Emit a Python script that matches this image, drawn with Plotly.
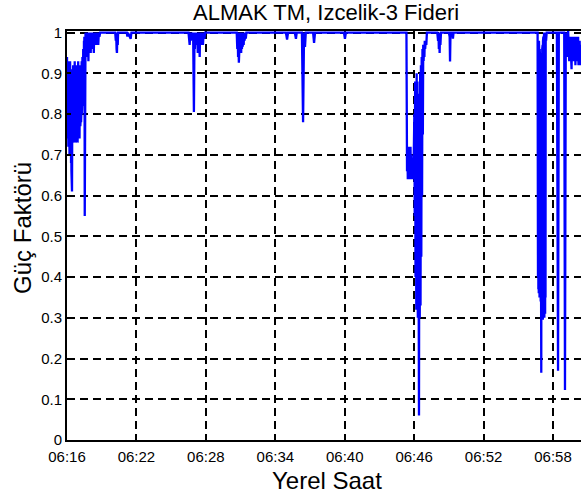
import plotly.graph_objects as go
from datetime import datetime, timedelta

# ---- data: seconds after 06:16:00 and power factor ----
t_sec = [
    # start-up band
    0, 1, 2, 3, 4, 5, 6, 7, 8, 9,
    10, 11, 12, 13, 14, 15, 16, 17, 18, 19,
    20, 21, 22, 23, 24, 25, 26, 27, 28, 29,
    30, 31, 32, 33, 34, 35, 36, 37, 38, 39,
    40, 41, 42, 43, 44, 45, 46, 47, 48, 49,
    50, 51, 52, 53, 54, 55, 56, 57, 58, 59,
    60, 61, 62, 63, 64, 65, 66, 67, 68, 69,
    70, 71, 72, 73, 74, 75, 76, 77, 78, 79,
    80, 81, 82, 83, 84, 85, 86, 87, 88, 89,
    90, 91, 92, 93, 94, 95, 96, 97, 98,
    99, 101, 103, 105, 107, 109, 111, 113, 115, 117,
    119, 121, 123, 125, 127, 129, 131, 133, 135, 137,
    139, 141, 143, 145, 147, 149, 151, 153, 156, 159,
    162, 165, 168, 172,
    # small dips
    250, 253, 255, 257, 259, 261, 263, 265,
    310, 313, 316, 330, 334, 338,
    # cluster near 06:27
    630, 636, 639, 642, 645, 650, 654, 658, 661, 663,
    665, 667, 669, 672, 675, 678, 680, 683, 685, 688,
    690, 693, 696, 699, 702, 705, 708, 712, 716,
    # wedge near 06:31
    880, 883, 885, 887, 889, 891, 893, 895, 897, 899,
    901, 903, 905, 907, 909, 911, 913, 916, 918, 921,
    924, 927, 930,
    # dips 06:35 - 06:40
    1135, 1141, 1146, 1181, 1184, 1187, 1191, 1218, 1224, 1229,
    1234, 1238, 1276, 1281, 1286, 1436, 1441, 1446,
    # event near 06:46
    1753, 1760, 1763, 1765, 1767, 1769, 1771, 1773, 1775, 1777,
    1779, 1781, 1783, 1785, 1787, 1789, 1791, 1793, 1795, 1798,
    1801, 1803, 1805, 1807, 1809, 1811, 1813, 1815, 1817, 1819,
    1821, 1823, 1825, 1827, 1829, 1831, 1833, 1835, 1837, 1839,
    1841, 1843, 1845, 1847, 1849, 1851, 1853, 1855, 1857, 1860,
    1863, 1866,
    # dips near 06:48
    1920, 1924, 1926, 1928, 1930, 1932, 1934, 1936, 1939, 1980,
    1984, 1986, 1988, 1990, 1998, 2001, 2004,
    # event near 06:57
    2436, 2440, 2442, 2443, 2444, 2445, 2446, 2447, 2448, 2449,
    2450, 2451, 2452, 2453, 2454, 2455, 2456, 2457, 2458, 2459,
    2460, 2461, 2462, 2463, 2464, 2465, 2466, 2467, 2468, 2469,
    2470, 2471, 2472, 2473, 2474, 2475, 2476, 2477, 2478, 2479,
    2480, 2481, 2482, 2484, 2487,
    # spikes near 06:58 - 06:59
    2540, 2546, 2550, 2578, 2582, 2586,
    # final band
    2588, 2590, 2592, 2594, 2596, 2598, 2600, 2602, 2604, 2606,
    2608, 2610, 2612, 2614, 2616, 2618, 2620, 2622, 2624, 2626,
    2628, 2630, 2632, 2634, 2636, 2638, 2640, 2642, 2644, 2646,
    2648, 2650, 2652, 2654, 2656, 2658, 2660, 2662, 2664, 2666,
    2670, 2675, 2680,
]
pf = [
    # start-up band
    0.94, 0.78, 0.92, 0.74, 0.90, 0.76, 0.93, 0.72, 0.88, 0.75,
    0.91, 0.73, 0.86, 0.70, 0.89, 0.74, 0.93, 0.76, 0.87, 0.72,
    0.90, 0.68, 0.85, 0.66, 0.88, 0.64, 0.61, 0.80, 0.91, 0.73,
    0.86, 0.75, 0.92, 0.74, 0.88, 0.78, 0.90, 0.73, 0.85, 0.76,
    0.93, 0.74, 0.87, 0.77, 0.90, 0.73, 0.86, 0.75, 0.92, 0.78,
    0.88, 0.74, 0.91, 0.76, 0.86, 0.73, 0.89, 0.77, 0.93, 0.75,
    0.87, 0.79, 0.90, 0.76, 0.85, 0.74, 0.88, 0.80, 0.92, 0.77,
    0.86, 0.79, 0.91, 0.78, 0.87, 0.81, 0.93, 0.80, 0.89, 0.83,
    0.94, 0.82, 0.90, 0.85, 0.96, 0.84, 0.92, 0.88, 0.98, 0.90,
    0.99, 0.93, 0.55, 0.97, 1.00, 0.93, 1.00, 0.95, 1.00,
    0.96, 1.00, 0.94, 1.00, 0.95, 0.99, 0.93, 1.00, 0.96, 1.00,
    0.97, 1.00, 0.95, 0.99, 0.97, 1.00, 0.96, 1.00, 0.98, 1.00,
    0.95, 1.00, 0.97, 1.00, 0.98, 1.00, 0.97, 1.00, 0.98, 1.00,
    0.97, 1.00, 0.99, 1.00,
    # small dips
    1.00, 0.98, 1.00, 0.96, 0.95, 1.00, 0.97, 1.00,
    1.00, 0.99, 1.00, 0.985, 1.00, 1.00,
    # cluster near 06:27
    1.00, 0.97, 1.00, 0.98, 1.00, 0.99, 1.00, 0.805, 1.00, 0.96,
    1.00, 0.97, 1.00, 0.98, 1.00, 0.95, 1.00, 0.96, 1.00, 0.94,
    1.00, 0.97, 1.00, 0.98, 1.00, 0.97, 1.00, 0.985, 1.00,
    # wedge near 06:31
    1.00, 0.96, 1.00, 0.94, 0.98, 0.926, 0.99, 0.94, 1.00, 0.95,
    0.99, 0.95, 1.00, 0.96, 0.99, 0.965, 1.00, 0.97, 1.00, 0.98,
    1.00, 0.985, 1.00,
    # dips 06:35 - 06:40
    1.00, 0.983, 1.00, 1.00, 0.99, 0.985, 1.00, 1.00, 0.78, 1.00,
    0.965, 1.00, 1.00, 0.975, 1.00, 1.00, 0.985, 1.00,
    # event near 06:46
    1.00, 1.00, 0.66, 0.72, 0.64, 0.71, 0.65, 0.72, 0.64, 0.70,
    0.65, 0.72, 0.64, 0.70, 0.65, 0.69, 0.64, 0.68, 0.66, 0.70,
    0.80, 0.55, 0.88, 0.40, 0.86, 0.32, 0.90, 0.35, 0.88, 0.30,
    0.85, 0.32, 0.06, 0.80, 0.30, 0.90, 0.33, 0.92, 0.45, 0.94,
    0.60, 0.96, 0.75, 0.97, 0.93, 0.97, 0.94, 0.98, 0.96, 0.98,
    0.97, 1.00,
    # dips near 06:48
    1.00, 0.98, 1.00, 0.96, 0.99, 0.95, 1.00, 0.97, 1.00, 1.00,
    0.99, 0.929, 0.99, 1.00, 1.00, 0.985, 1.00,
    # event near 06:57
    1.00, 1.00, 0.40, 0.97, 0.37, 0.95, 0.36, 0.98, 0.38, 0.94,
    0.35, 0.96, 0.37, 0.93, 0.36, 0.95, 0.34, 0.94, 0.36, 0.165,
    0.92, 0.33, 0.95, 0.31, 0.96, 0.30, 0.97, 0.295, 0.98, 0.31,
    0.99, 0.30, 0.98, 0.32, 1.00, 0.30, 0.99, 0.33, 1.00, 0.31,
    0.99, 0.35, 1.00, 0.98, 1.00,
    # spikes near 06:58 - 06:59
    1.00, 0.17, 1.00, 1.00, 0.123, 0.98,
    # final band
    0.97, 1.00, 0.94, 1.00, 0.95, 1.01, 0.94, 0.99, 0.93, 0.98,
    0.94, 0.99, 0.93, 0.97, 0.91, 0.98, 0.93, 0.99, 0.94, 0.98,
    0.93, 0.97, 0.94, 0.99, 0.92, 0.98, 0.94, 0.99, 0.93, 0.97,
    0.95, 0.99, 0.92, 0.97, 0.94, 0.98, 0.92, 0.96, 0.93, 0.97,
    0.94, 0.96, 0.95,
]
assert len(t_sec) == len(pf)

x_tick_labels = ["06:16", "06:22", "06:28", "06:34", "06:40", "06:46", "06:52", "06:58"]
y_tick_vals = [0, 0.1, 0.2, 0.3, 0.4, 0.5, 0.6, 0.7, 0.8, 0.9, 1.0]
y_tick_labels = ["0", "0.1", "0.2", "0.3", "0.4", "0.5", "0.6", "0.7", "0.8", "0.9", "1"]

title_text = "ALMAK TM, Izcelik-3 Fideri"
x_label = "Yerel Saat"
y_label = "Güç Faktörü"

# ---- build ----
base = datetime(2000, 1, 1, 6, 16, 0)
times = [base + timedelta(seconds=s) for s in t_sec]
tick_times = [datetime.strptime("2000-01-01 " + s, "%Y-%m-%d %H:%M") for s in x_tick_labels]
x_end = base + timedelta(seconds=2665)

FONT = "Liberation Sans, Arial, sans-serif"

fig = go.Figure()
fig.add_trace(go.Scatter(x=times, y=pf, mode="lines",
                         line=dict(color="rgb(0,0,255)", width=2.3),
                         showlegend=False, hoverinfo="skip"))

axis_common = dict(
    showline=True, linecolor="black", linewidth=2,
    ticks="inside", ticklen=4, tickwidth=1.5, tickcolor="black",
    showgrid=True, gridcolor="black", gridwidth=1.6, griddash="8px,5px",
    zeroline=False,
    tickfont=dict(family=FONT, size=15, color="black"),
)

fig.update_xaxes(type="date", range=[base, x_end], tickvals=tick_times,
                 ticktext=x_tick_labels, mirror=True, ticklabelstandoff=2,
                 **axis_common)
fig.update_yaxes(range=[0, 1.004], tickvals=y_tick_vals, ticktext=y_tick_labels,
                 mirror=False, **axis_common)

fig.update_layout(
    width=581, height=499,
    margin=dict(l=67, r=0, t=31, b=59),
    paper_bgcolor="white", plot_bgcolor="white",
    font=dict(family=FONT, color="black"),
    annotations=[
        dict(text=title_text, xref="paper", yref="paper", x=0.504, y=1.046,
             xanchor="center", yanchor="middle", showarrow=False,
             font=dict(family=FONT, size=22, color="black")),
        dict(text=x_label, xref="paper", yref="paper", x=0.506, y=-0.098,
             xanchor="center", yanchor="middle", showarrow=False,
             font=dict(family=FONT, size=24, color="black")),
        dict(text=y_label, xref="paper", yref="paper", x=-0.088, y=0.518,
             xanchor="center", yanchor="middle", showarrow=False, textangle=-90,
             font=dict(family=FONT, size=24, color="black")),
    ],
)

fig.write_html("out.html")
